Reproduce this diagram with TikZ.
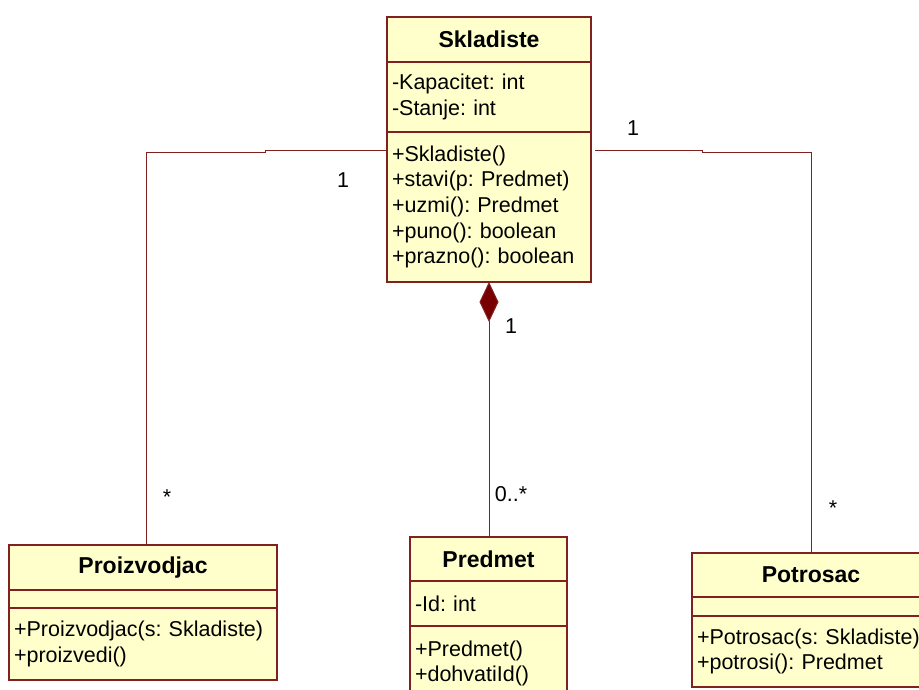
\documentclass[tikz,border=0pt]{standalone}
\usepackage{fontspec}
\setmainfont{Liberation Sans}
\usetikzlibrary{positioning,arrows.meta}
\definecolor{umlred}{RGB}{128,32,32}
\definecolor{umlfill}{RGB}{255,255,204}
\definecolor{umldark}{RGB}{120,0,0}

\begin{document}
\frenchspacing
\begin{tikzpicture}[x=1pt,y=-1pt,
            every node/.style = {font=\fontsize{21.5}{25.7}\selectfont, outer sep=0pt},
            namepart/.style = {draw=umlred, fill=umlfill, line width=1.3pt,
                               minimum width=#1, inner sep=0pt,
                               font=\fontsize{23}{25.7}\selectfont\bfseries},
            listpart/.style = {draw=umlred, fill=umlfill, line width=1.3pt,
                               text width=#1, align=left, inner xsep=5pt, inner ysep=0pt},
            assoc/.style = {draw=umlred, line width=1pt},
            mult/.style = {inner sep=0pt}]
    \useasboundingbox (0,0) rectangle (919,690);

    % Skladiste
    \node[namepart=204, minimum height=45, anchor=north west] (sklName) at (387,17) {Skladiste};
    \node[listpart=194, minimum height=70, below=0pt of sklName] (sklAttr)
        {-Kapacitet: int\\-Stanje: int};
    \node[listpart=194, minimum height=150, below=0pt of sklAttr] (sklMeth)
        {+Skladiste()\\+stavi(p: Predmet)\\+uzmi(): Predmet\\+puno(): boolean\\+prazno(): boolean};

    % Proizvodjac
    \node[namepart=268, minimum height=45, anchor=north west] (proName) at (9,545) {Proizvodjac};
    \node[listpart=258, minimum height=18, below=0pt of proName] (proAttr) {};
    \node[listpart=258, minimum height=72, below=0pt of proAttr] (proMeth)
        {+Proizvodjac(s: Skladiste)\\+proizvedi()};

    % Predmet
    \node[namepart=157, minimum height=44, anchor=north west] (preName) at (410,537) {Predmet};
    \node[listpart=147, minimum height=45, below=0pt of preName] (preAttr) {-Id: int};
    \node[listpart=147, minimum height=75, below=0pt of preAttr] (preMeth)
        {+Predmet()\\+dohvatiId()};

    % Potrosac
    \node[namepart=238, minimum height=44, anchor=north west] (potName) at (692,553) {Potrosac};
    \node[listpart=228, minimum height=19, below=0pt of potName] (potAttr) {};
    \node[listpart=228, minimum height=71, below=0pt of potAttr] (potMeth)
        {+Potrosac(s: Skladiste)\\+potrosi(): Predmet};

    % veze
    \draw[assoc] ([yshift=-19pt]sklMeth.north west) -- ++(-122,0) -- ++(0,2) -| ([xshift=3pt]proName.north);
    \draw[assoc] ([xshift=4pt,yshift=-19pt]sklMeth.north east) -- ++(107,0) -- ++(0,2) -| (potName.north);
    \draw[assoc, -{Diamond[length=40pt,width=19pt,fill=umldark]}] (sklMeth.south |- preName.north) -- (sklMeth.south);

    % multiplicitet
    \node[mult] (mProS) at (343,180) {1};
    \node[mult] (mProD) at (167,497) {*};
    \node[mult] (mPotS) at (633,128) {1};
    \node[mult] (mPotD) at (833,508) {*};
    \node[mult] (mPreS) at (511,326) {1};
    \node[mult] (mPreD) at (511,494) {0..*};
\end{tikzpicture}
\end{document}
